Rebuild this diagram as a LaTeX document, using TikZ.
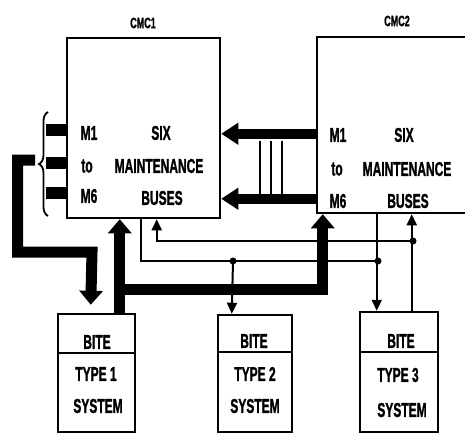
\documentclass[tikz,border=0pt]{standalone}
\usepackage{fontspec}
\setmainfont{Liberation Sans}
\newfontfamily\heavy{Liberation Sans Bold}[FakeBold=1.5]
\usetikzlibrary{arrows.meta,decorations.pathreplacing,calc}
\newcommand{\cnd}[1]{\scalebox{0.6}[1]{#1}}
\begin{document}
\begin{tikzpicture}[x=1pt,y=-1pt,
  box/.style={draw,line width=2.5pt,rectangle,inner sep=0pt},
  txt/.style={font=\fontsize{20}{22}\heavy,inner sep=0pt},
  ttl/.style={font=\fontsize{15}{17}\heavy,inner sep=0pt},
  thinline/.style={line width=2pt},
  fatline/.style={line width=11pt,line join=miter},
  bigtip/.style={-{Triangle[length=14pt,width=23pt]}},
  smalltip/.style={-{Triangle[length=11pt,width=10pt]}},
  jdot/.style={circle,fill,inner sep=0pt,minimum size=7pt},
]
\useasboundingbox (0,0) rectangle (465,434);
\clip (0,0) rectangle (465,434);

% CMC boxes
\node[box,minimum width=153pt,minimum height=180pt] (cmc1) at (143.5,128) {};
\node[box,minimum width=170pt,minimum height=176pt] (cmc2) at (402,125) {};
\node[ttl] (cmc1t) at (143,23) {\cnd{CMC1}};
\node[ttl] (cmc2t) at (397,21) {\cnd{CMC2}};

% CMC1 texts
\node[txt] (c1m1) at (89,133) {\cnd{M1}};
\node[txt] (c1six) at (161,133) {\cnd{SIX}};
\node[txt] (c1to) at (87,166) {\cnd{to}};
\node[txt] (c1mt) at (159,166) {\cnd{MAINTENANCE}};
\node[txt] (c1m6) at (89,196) {\cnd{M6}};
\node[txt] (c1bu) at (162,198) {\cnd{BUSES}};

% CMC2 texts
\node[txt] (c2m1) at (338,135) {\cnd{M1}};
\node[txt] (c2six) at (404,135) {\cnd{SIX}};
\node[txt] (c2to) at (337,169) {\cnd{to}};
\node[txt] (c2mt) at (407,169) {\cnd{MAINTENANCE}};
\node[txt] (c2m6) at (338,201) {\cnd{M6}};
\node[txt] (c2bu) at (408,201) {\cnd{BUSES}};

% BITE boxes
\node[box,minimum width=77pt,minimum height=118pt] (bite1) at (96.5,373) {};
\node[box,minimum width=74pt,minimum height=117pt] (bite2) at (255,373.5) {};
\node[box,minimum width=78pt,minimum height=120pt] (bite3) at (399,372) {};
\draw[line width=2.2pt] ($(bite1.north west)+(0,40)$) -- ($(bite1.north east)+(0,40)$);
\draw[line width=2.2pt] ($(bite2.north west)+(0,38)$) -- ($(bite2.north east)+(0,38)$);
\draw[line width=2.2pt] ($(bite3.north west)+(0,41)$) -- ($(bite3.north east)+(0,41)$);

\node[txt] (b1a) at (97,342) {\cnd{BITE}};
\node[txt] (b1b) at (96,374) {\cnd{TYPE 1}};
\node[txt] (b1c) at (98,406) {\cnd{SYSTEM}};
\node[txt] (b2a) at (254,341) {\cnd{BITE}};
\node[txt] (b2b) at (255,374) {\cnd{TYPE 2}};
\node[txt] (b2c) at (255,406) {\cnd{SYSTEM}};
\node[txt] (b3a) at (401,341) {\cnd{BITE}};
\node[txt] (b3b) at (398,375) {\cnd{TYPE 3}};
\node[txt] (b3c) at (402,410) {\cnd{SYSTEM}};

% left stubs and brace
\foreach \dy in {93,126,156}
  \draw[line width=12pt] ($(cmc1.north west)+(-20,\dy)$) -- ($(cmc1.north west)+(0,\dy)$);
\draw[line width=1.8pt,decorate,decoration={brace,amplitude=9pt}] (48,216) -- (48,112);
\coordinate (btip) at (35,160);

% thick L from brace to BITE1
\draw[fatline,bigtip] (btip) -- (17.5,160) -- (17.5,252) -- (92,252) -- ($(bite1.north west)+(34,-8)$);

% thick BITE1 -> CMC1 and -> CMC2
\draw[fatline,bigtip] ($(bite1.north west)+(63,0)$) -- ($(cmc1.south west)+(54,0)$);
\draw[fatline,bigtip] ($(bite1.north west)+(63,-23)$) -| ($(cmc2.south west)+(7,0)$);

% thick arrows CMC2 -> CMC1
\draw[line width=10pt,-{Triangle[length=17pt,width=21pt]}] ($(cmc2.north west)+(0,98)$) -- ($(cmc1.north east)+(0,97)$);
\draw[line width=10pt,-{Triangle[length=17pt,width=21pt]}] ($(cmc2.north west)+(0,163)$) -- ($(cmc1.north east)+(0,162)$);
\foreach \x in {260,271,282}
  \draw[line width=2.5pt] (\x,141) -- (\x,195);

% thin bus lines
\coordinate (jA) at (413,241);
\coordinate (jB1) at (233,261);
\coordinate (jB2) at (378,261);
\draw[thinline,smalltip] (jA) -| ($(cmc1.south west)+(91,0)$);
\draw[thinline,smalltip] ($(bite3.north west)+(53,0)$) -- ($(cmc2.south west)+(96,0)$);
\draw[thinline] ($(cmc1.south west)+(75,0)$) |- (jB2);
\draw[thinline,smalltip] ($(cmc2.south west)+(61,0)$) -- ($(bite3.north west)+(18,0)$);
\draw[thinline,smalltip] (jB1) -- ($(bite2.north west)+(15,0)$);
\node[jdot] (dA) at (jA) {};
\node[jdot] (dB1) at (jB1) {};
\node[jdot] (dB2) at (jB2) {};
\end{tikzpicture}
\end{document}
